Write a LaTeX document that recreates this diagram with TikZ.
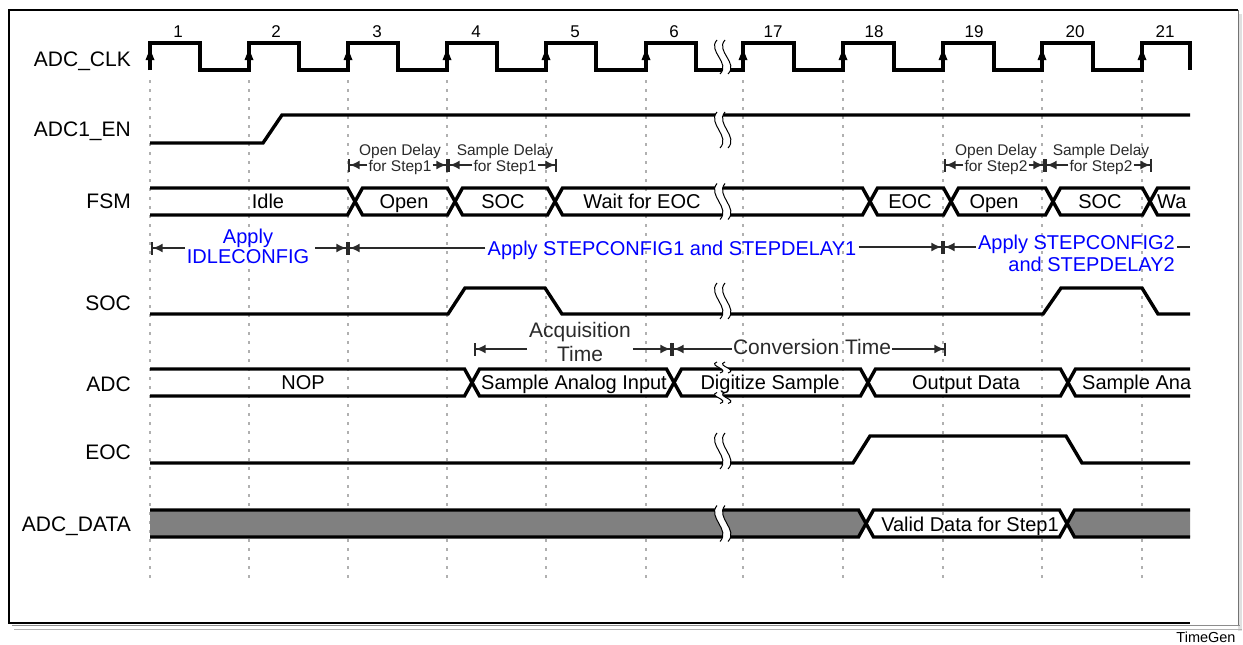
\documentclass[tikz,border=0pt]{standalone}
\usepackage{fontspec}
\setmainfont{Liberation Sans}
\usetikzlibrary{arrows.meta}
\definecolor{annot}{HTML}{2A2A2A}
\definecolor{busgray}{HTML}{808080}
\definecolor{gridc}{HTML}{B0B0B0}
\definecolor{apblue}{HTML}{0000FF}
\newcommand\fsz[1]{\fontsize{#1}{#1}\selectfont}
% bus helpers: top, mid, bot, xa, xb
\newcommand\busseg[5]{\draw[bus] (#4,#2) -- (#4+7.5,#1) -- (#5-7.5,#1) -- (#5,#2) -- (#5-7.5,#3) -- (#4+7.5,#3) -- cycle;}
\newcommand\busstart[5]{\draw[bus] (#4,#1) -- (#5-7.5,#1) -- (#5,#2) -- (#5-7.5,#3) -- (#4,#3);}
\newcommand\busend[5]{\draw[bus] (#5,#1) -- (#4+7.5,#1) -- (#4,#2) -- (#4+7.5,#3) -- (#5,#3);}
% break mark: x, centre y, half height
\newcommand\wavebreak[3]{%
  \fill[white] (#1-3,#2-#3) .. controls (#1-13,#2-0.35*#3) and (#1+11,#2+0.35*#3) .. (#1,#2+#3)
     -- (#1+8,#2+#3) .. controls (#1+19,#2+0.35*#3) and (#1-5,#2-0.35*#3) .. (#1+5,#2-#3) -- cycle;
  \draw[line width=1pt] (#1-3,#2-#3) .. controls (#1-13,#2-0.35*#3) and (#1+11,#2+0.35*#3) .. (#1,#2+#3);
  \draw[line width=1pt] (#1+5,#2-#3) .. controls (#1-5,#2-0.35*#3) and (#1+19,#2+0.35*#3) .. (#1+8,#2+#3);}
\begin{document}
\begin{tikzpicture}[x=1pt,y=-1pt,
  sig/.style={line width=3.4pt},
  bus/.style={line width=3.4pt, miter limit=1.5},
  gridline/.style={gridc, line width=1.3pt, dash pattern=on 3pt off 6pt},
  lbl/.style={anchor=base east, inner sep=0pt, font=\fsz{21}},
  bt/.style={anchor=base, inner sep=0pt, font=\fsz{20}},
  num/.style={anchor=base, inner sep=0pt, font=\fsz{17}},
  smalltxt/.style={anchor=base, inner sep=0pt, text=annot, font=\fsz{15.5}},
  bigtxt/.style={anchor=base, inner sep=0pt, text=annot, font=\fsz{21}},
  bluetxt/.style={anchor=base, inner sep=0pt, text=apblue, font=\fsz{20}},
  dimarrow/.style={annot, line width=1.7pt, -{Latex[length=10pt,width=9pt]Bar[width=13pt]}},
  dimplain/.style={annot, line width=1.7pt},
]
\useasboundingbox (0,0) rectangle (1243,645);
% frame
\fill[black!12] (1238,14) rectangle (1242,631);
\draw[black!30, line width=1.2pt] (14,629.5) -- (1242,629.5);
\draw[black!45, line width=1pt] (12,625.5) -- (1240,625.5);
\draw[black!55, line width=1pt] (1238,10) -- (1238,625);
\draw[black, line width=1.3pt] (1238,10) -- (9,10) -- (9,623) -- (1190,623);
% grid
\foreach \e in {150,249,348,447,546,646,743,843,943,1042,1142}
  \draw[gridline] (\e,80) -- (\e,578);
% labels
\node[lbl] (lclk) at (131,66.5) {ADC\_CLK};
\node[lbl] (len) at (131,136.5) {ADC1\_EN};
\node[lbl] (lfsm) at (131,208.5) {FSM};
\node[lbl] (lsoc) at (131,310) {SOC};
\node[lbl] (ladc) at (131,391) {ADC};
\node[lbl] (leoc) at (131,459) {EOC};
\node[lbl] (ldata) at (131,531.5) {ADC\_DATA};
% clock
\draw[sig] (150,70) -- (150,43) -- (200,43) -- (200,70)
  foreach \e in {249,348,447,546,646} { -- (\e,70) -- (\e,43) -- (\e+50,43) -- (\e+50,70) }
  foreach \e in {743,843,943,1042} { -- (\e,70) -- (\e,43) -- (\e+51,43) -- (\e+51,70) }
  -- (1142,70) -- (1142,43) -- (1190,43) -- (1190,70);
\foreach \e in {150,249,348,447,546,646,743,843,943,1042,1142}
  \fill (\e,49) -- (\e-4.5,60) -- (\e+4.5,60) -- cycle;
\foreach \x/\n in {178/1,276/2,377/3,476/4,575/5,674/6,773/17,874/18,974/19,1075/20,1165/21}
  \node[num] (n\n) at (\x,37) {\n};
% ADC1_EN
\draw[sig] (150,143) -- (263,143) -- (282,115) -- (1190,115);
% FSM
\busstart{188}{201.5}{215}{150}{355}
\busseg{188}{201.5}{215}{355}{455}
\busseg{188}{201.5}{215}{455}{555}
\busseg{188}{201.5}{215}{555}{870}
\busseg{188}{201.5}{215}{870}{951}
\busseg{188}{201.5}{215}{951}{1053}
\busseg{188}{201.5}{215}{1053}{1150}
\busend{188}{201.5}{215}{1150}{1190}
% SOC
\draw[sig] (150,314) -- (448,314) -- (465,288) -- (545,288) -- (562,314) -- (1043,314) -- (1061,288) -- (1142,288) -- (1158,314) -- (1190,314);
% ADC
\busstart{369}{382.5}{396}{150}{472}
\busseg{369}{382.5}{396}{472}{674}
\busseg{369}{382.5}{396}{674}{868}
\busseg{369}{382.5}{396}{868}{1068}
\busend{369}{382.5}{396}{1068}{1190}
% EOC
\draw[sig] (150,463) -- (853,463) -- (870,436) -- (1066,436) -- (1082,463) -- (1190,463);
% ADC_DATA
\fill[busgray] (150,510) -- (858.5,510) -- (866,523.5) -- (858.5,537) -- (150,537) -- cycle;
\fill[busgray] (1190,510) -- (1074.5,510) -- (1067,523.5) -- (1074.5,537) -- (1190,537) -- cycle;
\busstart{510}{523.5}{537}{150}{866}
\busseg{510}{523.5}{537}{866}{1067}
\busend{510}{523.5}{537}{1067}{1190}
% breaks
\wavebreak{720}{57}{17}
\wavebreak{720}{130}{18}
\wavebreak{720}{201.5}{18}
\wavebreak{720}{301}{18}
\wavebreak{720}{367.5}{5.5}
\wavebreak{720}{398}{5.5}
\wavebreak{720}{451}{18}
\wavebreak{720}{523.5}{18}
% bus texts
\node[bt] (fidle) at (268,208) {Idle};
\node[bt] (fopen1) at (404,208) {Open};
\node[bt] (fsoc1) at (503,208) {SOC};
\node[bt] (fwait) at (642,208) {Wait for EOC};
\node[bt] (feoc) at (910,208) {EOC};
\node[bt] (fopen2) at (994,208) {Open};
\node[bt] (fsoc2) at (1100,208) {SOC};
\node[bt, anchor=base west] (fwa) at (1157,208) {Wa};
\node[bt] (anop) at (303,389) {NOP};
\node[bt] (asample) at (574,389) {Sample Analog Input};
\node[bt] (adig) at (770,389) {Digitize Sample};
\node[bt] (aout) at (966,389) {Output Data};
\node[bt, anchor=base west] (asa) at (1082,389) {Sample Ana};
\node[bt] (dvalid) at (970,531) {Valid Data for Step1};
% delay annotations
\coordinate (d1a) at (348,165); \coordinate (d1b) at (448,165);
\coordinate (d1c) at (557,165);
\coordinate (d2a) at (944,165); \coordinate (d2b) at (1045,165);
\coordinate (d2c) at (1152,165);
\node[smalltxt] (od1) at (400,155) {Open Delay};
\node[smalltxt] (of1) at (400,171) {for Step1};
\node[smalltxt] (sd1) at (505,155) {Sample Delay};
\node[smalltxt] (sf1) at (505,171) {for Step1};
\node[smalltxt] (od2) at (996,155) {Open Delay};
\node[smalltxt] (of2) at (996,171) {for Step2};
\node[smalltxt] (sd2) at (1101,155) {Sample Delay};
\node[smalltxt] (sf2) at (1101,171) {for Step2};
\draw[dimarrow] ([xshift=-1pt]of1.west |- d1a) -- (d1a);
\draw[dimarrow] ([xshift=1pt]of1.east |- d1b) -- (d1b);
\draw[dimarrow] ([xshift=-1pt]sf1.west |- d1b) -- (d1b);
\draw[dimarrow] ([xshift=1pt]sf1.east |- d1c) -- (d1c);
\draw[dimarrow] ([xshift=-1pt]of2.west |- d2a) -- (d2a);
\draw[dimarrow] ([xshift=1pt]of2.east |- d2b) -- (d2b);
\draw[dimarrow] ([xshift=-1pt]sf2.west |- d2b) -- (d2b);
\draw[dimarrow] ([xshift=1pt]sf2.east |- d2c) -- (d2c);
% apply annotations
\coordinate (p0) at (151,248); \coordinate (p1) at (348,248);
\coordinate (p2) at (943,247); \coordinate (p3) at (1190,247);
\node[bluetxt] (ap0) at (248,243) {Apply};
\node[bluetxt] (ic0) at (248,263) {IDLECONFIG};
\node[bluetxt] (ap1) at (672,255) {Apply STEPCONFIG1 and STEPDELAY1};
\node[bluetxt, anchor=base east] (ap2) at (1175,249) {Apply STEPCONFIG2};
\node[bluetxt, anchor=base east] (sdl2) at (1175,271) {and STEPDELAY2};
\draw[dimarrow] ([xshift=-2pt]ic0.west |- p0) -- (p0);
\draw[dimarrow] ([xshift=6pt]ic0.east |- p1) -- (p1);
\draw[dimarrow] ([xshift=-2pt]ap1.west |- p1) -- (p1);
\draw[dimarrow] ([xshift=2pt]ap1.east |- p2) -- (p2);
\draw[dimarrow] ([xshift=-2pt]ap2.west |- p2) -- (p2);
\draw[dimplain] ([xshift=2pt]ap2.east |- p3) -- (p3);
% acquisition / conversion
\coordinate (q0) at (474,349); \coordinate (q1) at (672,349); \coordinate (q2) at (946,349);
\node[bigtxt] (acq) at (580,337) {Acquisition};
\node[bigtxt] (acqt) at (580,361) {Time};
\node[bigtxt] (conv) at (812,354) {Conversion Time};
\draw[dimarrow] ([xshift=-2pt]acq.west |- q0) -- (q0);
\draw[dimarrow] ([xshift=2pt]acq.east |- q1) -- (q1);
\draw[dimarrow] ([xshift=-1pt]conv.west |- q1) -- (q1);
\draw[dimarrow] ([xshift=1pt]conv.east |- q2) -- (q2);
% footer
\node[anchor=base, inner sep=0pt, font=\fsz{14.5}] (tg) at (1206,642.5) {TimeGen};
\end{tikzpicture}
\end{document}
